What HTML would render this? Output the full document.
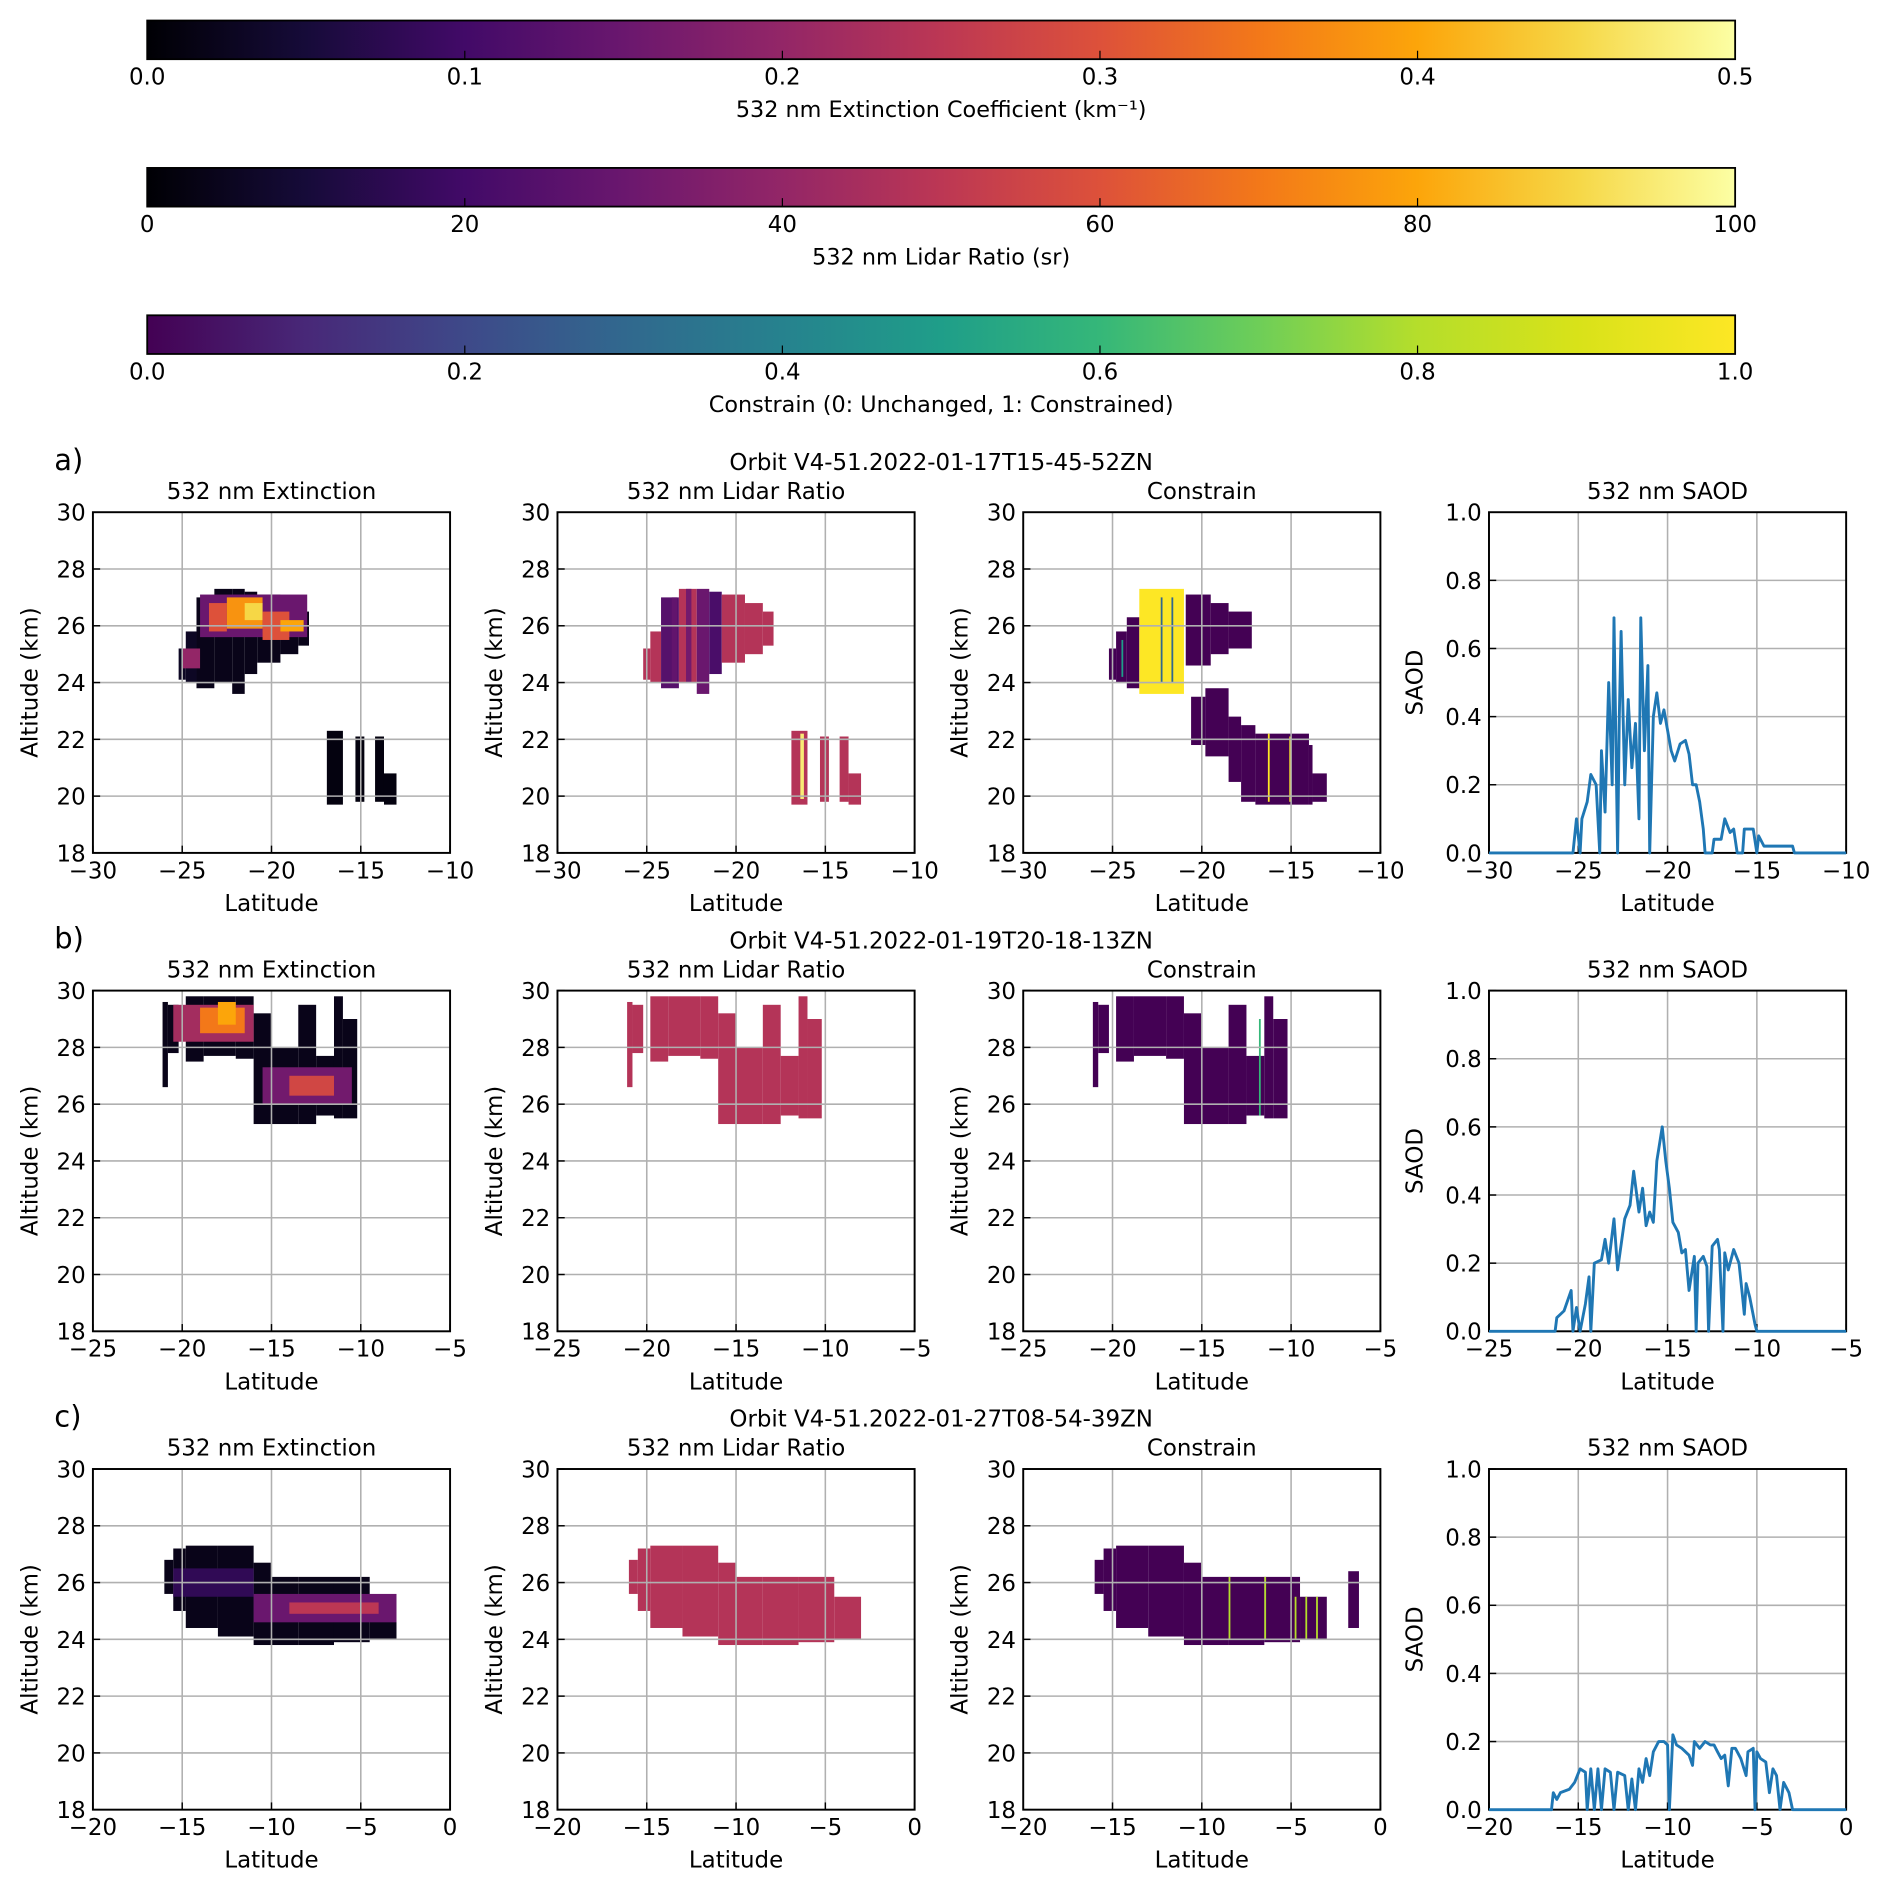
<!DOCTYPE html>
<html><head><meta charset="utf-8">
<style>
html,body{margin:0;padding:0;background:#fff;}
svg{display:block;}
text{font-family:"DejaVu Sans","Liberation Sans",sans-serif;fill:#000;}
</style></head>
<body>
<svg id="fig" xmlns="http://www.w3.org/2000/svg" width="1892" height="1887" viewBox="0 0 1568 1562" preserveAspectRatio="none">
<defs>
<linearGradient id="gInferno" x1="0" x2="1" y1="0" y2="0">
<stop offset="0" stop-color="#000004"/><stop offset="0.1" stop-color="#160b39"/><stop offset="0.2" stop-color="#420a68"/><stop offset="0.3" stop-color="#6a176e"/><stop offset="0.4" stop-color="#932667"/><stop offset="0.5" stop-color="#bc3754"/><stop offset="0.6" stop-color="#dd513a"/><stop offset="0.7" stop-color="#f37819"/><stop offset="0.8" stop-color="#fca50a"/><stop offset="0.9" stop-color="#f6d746"/><stop offset="1" stop-color="#fcffa4"/>
</linearGradient>
<linearGradient id="gViridis" x1="0" x2="1" y1="0" y2="0">
<stop offset="0" stop-color="#440154"/><stop offset="0.1" stop-color="#482878"/><stop offset="0.2" stop-color="#3e4989"/><stop offset="0.3" stop-color="#31688e"/><stop offset="0.4" stop-color="#26828e"/><stop offset="0.5" stop-color="#1f9e89"/><stop offset="0.6" stop-color="#35b779"/><stop offset="0.7" stop-color="#6ece58"/><stop offset="0.8" stop-color="#b5de2b"/><stop offset="0.9" stop-color="#d8e219"/><stop offset="1" stop-color="#fde725"/>
</linearGradient>
</defs>
</svg>
<script>
// ---------- colorbar data ----------
const cbExtTicks = ["0.0","0.1","0.2","0.3","0.4","0.5"];
const cbLrTicks = ["0","20","40","60","80","100"];
const cbConTicks = ["0.0","0.2","0.4","0.6","0.8","1.0"];
const cbLabels = ["532 nm Extinction Coefficient (km\u207B\u00B9)","532 nm Lidar Ratio (sr)","Constrain (0: Unchanged, 1: Constrained)"];

// ---------- row titles ----------
const rowLetters = ["a)","b)","c)"];
const rowTitles = ["Orbit V4-51.2022-01-17T15-45-52ZN","Orbit V4-51.2022-01-19T20-18-13ZN","Orbit V4-51.2022-01-27T08-54-39ZN"];
const colTitles = ["532 nm Extinction","532 nm Lidar Ratio","Constrain","532 nm SAOD"];
const rowLatMin = [-30,-25,-20];
const rowLatMax = [-10,-5,0];
const altTicks = [18,20,22,24,26,28,30];
const saodTicks = [0,0.2,0.4,0.6,0.8,1.0];

// ---------- row a segments [lat0, lat1, bottom km, top km, value] ----------
const aShape = [[-25.2,-24.8,24.1,25.2],[-24.8,-24.2,24.0,25.8],[-24.2,-23.2,23.8,27.0],[-23.2,-22.2,24.0,27.3],[-22.2,-21.5,23.6,27.3],[-21.5,-20.8,24.3,27.2],[-20.8,-19.5,24.7,27.1],[-19.5,-18.5,25.0,26.8],[-18.5,-17.9,25.3,26.5],[-16.9,-16.0,19.7,22.3],[-15.3,-14.8,19.8,22.1],[-14.2,-13.7,19.8,22.1],[-13.7,-13.0,19.7,20.8]];
const aExtShapeVal = [0.03,0.03,0.02,0.02,0.02,0.02,0.02,0.02,0.02,0.01,0.01,0.01,0.01];
const aExtCore = [[-24,-18,25.6,27.1,0.15],[-25,-24,24.5,25.2,0.2],[-23.5,-22.5,25.8,26.8,0.3],[-22.5,-20.5,25.9,27.0,0.38],[-21.5,-20.5,26.2,26.8,0.45],[-20.5,-19,25.5,26.5,0.3],[-19.5,-18.2,25.8,26.2,0.4]];
const aLrShapeVal = [48,48,25,48,30,22,48,48,48,48,48,48,48];
const aLrExtra = [[-23.6,-23.3,24.0,27.0,28],[-22.8,-22.5,24.0,27.3,32],[-16.4,-16.2,19.9,22.2,95]];
const aConShape = [[-25.2,-24.8,24.1,25.2],[-24.8,-24.2,24.0,25.8],[-24.2,-23.5,23.8,26.3],[-20.9,-19.5,24.6,27.1],[-19.5,-18.5,25.0,26.8],[-18.5,-17.2,25.2,26.5],[-20.6,-19.8,21.8,23.5],[-19.8,-18.5,21.4,23.8],[-18.5,-17.8,20.5,22.8],[-17.8,-17.0,19.8,22.5],[-17.0,-14.0,19.7,22.2],[-14.0,-13.8,19.7,21.8],[-13.8,-13.0,19.8,20.8]];
const aConYellow = [[-23.5,-21.0,23.6,27.3,1],[-22.3,-22.2,24.0,27.0,0.3],[-21.7,-21.6,24.0,27.0,0.3],[-24.5,-24.4,24.2,25.5,0.5],[-16.3,-16.2,19.8,22.2,1],[-15.1,-15.0,19.8,22.1,1]];
const aSaodLat = [-30,-25.3,-25.1,-24.9,-24.8,-24.5,-24.3,-24.0,-23.8,-23.7,-23.5,-23.3,-23.1,-23.0,-22.8,-22.7,-22.6,-22.4,-22.2,-22.0,-21.8,-21.6,-21.5,-21.3,-21.1,-21.0,-20.8,-20.6,-20.4,-20.2,-20.0,-19.8,-19.6,-19.3,-19.0,-18.8,-18.6,-18.4,-18.2,-18.0,-17.9,-17.5,-17.4,-17.0,-16.8,-16.5,-16.3,-16.1,-15.8,-15.7,-15.2,-15.0,-14.9,-14.6,-13.0,-12.9,-10];
const aSaodVal = [0,0,0.1,0,0.1,0.15,0.23,0.2,0,0.3,0.12,0.5,0.2,0.69,0,0.4,0.65,0.2,0.45,0.25,0.38,0.1,0.69,0.3,0.55,0,0.4,0.47,0.38,0.42,0.36,0.3,0.27,0.32,0.33,0.29,0.2,0.2,0.15,0.07,0,0,0.04,0.04,0.1,0.06,0.07,0,0,0.07,0.07,0,0.05,0.02,0.02,0,0];

// ---------- row b ----------
const bShape = [[-21.1,-20.8,26.6,29.6],[-20.8,-20.2,27.8,29.5],[-19.8,-18.8,27.5,29.8],[-18.8,-17.0,27.7,29.8],[-17.0,-16.0,27.6,29.8],[-16.0,-15.0,25.3,29.2],[-15.0,-13.5,25.3,28.0],[-13.5,-12.5,25.3,29.5],[-12.5,-11.5,25.6,27.7],[-11.5,-11.0,25.5,29.8],[-11.0,-10.2,25.5,29.0]];
const bExtShapeVal = [0.02,0.02,0.02,0.02,0.02,0.02,0.02,0.02,0.02,0.02,0.02];
const bExtCore = [[-20.5,-16,28.2,29.5,0.22],[-19,-16.5,28.5,29.4,0.35],[-18,-17,28.8,29.6,0.4],[-15.5,-10.5,26.0,27.3,0.16],[-14,-11.5,26.3,27.0,0.28]];
const bLrShapeVal = [48,48,48,48,48,48,48,48,48,48,48];
const bConShapeVal = [0,0,0,0,0,0,0,0,0,0,0];
const bConExtra = [[-11.8,-11.7,25.6,29.0,0.6]];
const bSaodLat = [-25,-21.3,-21.2,-20.8,-20.4,-20.3,-20.1,-19.9,-19.6,-19.4,-19.3,-19.1,-18.7,-18.5,-18.3,-18.0,-17.8,-17.4,-17.1,-16.9,-16.6,-16.4,-16.2,-16.0,-15.8,-15.6,-15.3,-15.1,-14.9,-14.7,-14.4,-14.2,-14.0,-13.8,-13.5,-13.4,-13.3,-13.0,-12.8,-12.7,-12.5,-12.2,-12.1,-11.9,-11.8,-11.6,-11.3,-11.0,-10.8,-10.7,-10.6,-10.4,-10.1,-10.0,-5];
const bSaodVal = [0,0,0.04,0.06,0.12,0,0.07,0,0.08,0.16,0,0.2,0.21,0.27,0.2,0.33,0.18,0.33,0.37,0.47,0.35,0.42,0.31,0.35,0.32,0.5,0.6,0.5,0.42,0.32,0.29,0.23,0.24,0.12,0.22,0,0.2,0.22,0.19,0,0.25,0.27,0.24,0,0.23,0.18,0.24,0.2,0.1,0.05,0.14,0.1,0.02,0,0];

// ---------- row c ----------
const cShape = [[-16,-15.5,25.6,26.8],[-15.5,-14.8,25.0,27.2],[-14.8,-13,24.4,27.3],[-13,-11,24.1,27.3],[-11,-10,23.8,26.7],[-10,-8.5,23.8,26.2],[-8.5,-6.5,23.8,26.2],[-6.5,-4.5,23.9,26.2],[-4.5,-3,24.0,25.5]];
const cExtShapeVal = [0.02,0.02,0.02,0.02,0.02,0.02,0.02,0.02,0.02];
const cExtCore = [[-15.5,-11,25.5,26.5,0.08],[-11,-3,24.6,25.6,0.15],[-9,-4,24.9,25.3,0.25]];
const cLrShapeVal = [48,48,48,48,48,48,48,48,48];
const cConShapeVal = [0,0,0,0,0,0,0,0,0];
const cConExtra = [[-1.8,-1.2,24.4,26.4,0],[-8.5,-8.4,24.0,26.2,0.8],[-6.5,-6.4,24.0,26.2,0.8],[-4.8,-4.7,24.0,25.5,0.8],[-4.2,-4.1,24.0,25.5,0.8],[-3.6,-3.5,24.0,25.5,0.8]];
const cSaodLat = [-20,-16.5,-16.4,-16.2,-16.0,-15.5,-15.2,-14.9,-14.6,-14.5,-14.3,-14.1,-13.9,-13.7,-13.5,-13.2,-13.0,-12.8,-12.4,-12.2,-12.0,-11.8,-11.6,-11.4,-11.2,-11.0,-10.8,-10.5,-10.2,-10.0,-9.9,-9.7,-9.5,-9.2,-8.8,-8.6,-8.5,-8.2,-7.9,-7.6,-7.4,-7.2,-7.0,-6.8,-6.6,-6.4,-6.2,-5.9,-5.6,-5.5,-5.2,-5.1,-5.0,-4.8,-4.5,-4.3,-4.1,-3.9,-3.7,-3.5,-3.2,-3.0,0];
const cSaodVal = [0,0,0.05,0.03,0.05,0.06,0.08,0.12,0.11,0,0.12,0,0.12,0,0.12,0.11,0,0.11,0.1,0,0.09,0,0.12,0.08,0.15,0.1,0.17,0.2,0.2,0.19,0,0.22,0.19,0.18,0.16,0.13,0.2,0.18,0.2,0.19,0.19,0.17,0.15,0.16,0.07,0.18,0.18,0.15,0.1,0.17,0.18,0,0.17,0.15,0.14,0.05,0.12,0.1,0,0.08,0.05,0,0];

// ---------- helpers ----------
const NS = "http://www.w3.org/2000/svg";
const svg = document.getElementById("fig");
function el(tag, attrs, parent){const e=document.createElementNS(NS,tag);for(const k in attrs)e.setAttribute(k,attrs[k]);(parent||svg).appendChild(e);return e;}
function txt(s, attrs, parent){const e=el("text",attrs,parent);e.textContent=s;return e;}
const infernoStops=["#000004","#160b39","#420a68","#6a176e","#932667","#bc3754","#dd513a","#f37819","#fca50a","#f6d746","#fcffa4"];
const viridisStops=["#440154","#482878","#3e4989","#31688e","#26828e","#1f9e89","#35b779","#6ece58","#b5de2b","#d8e219","#fde725"];
function hex2rgb(h){return [parseInt(h.substr(1,2),16),parseInt(h.substr(3,2),16),parseInt(h.substr(5,2),16)];}
function cmap(stops,t){t=Math.max(0,Math.min(1,t));const f=t*10;const i=Math.min(9,Math.floor(f));const r=f-i;const a=hex2rgb(stops[i]),b=hex2rgb(stops[i+1]);return "rgb("+a.map((v,k)=>Math.round(v+(b[k]-v)*r)).join(",")+")";}
function fmtNeg(v){return v<0?"\u2212"+Math.abs(v):String(v);}

// ---------- colorbars ----------
const CB_X0=122, CB_X1=1438, CB_H=32;
const cbYs=[17,139,261];
const cbGrads=["gInferno","gInferno","gViridis"];
const cbTickSets=[cbExtTicks,cbLrTicks,cbConTicks];
const cbNames=["extinction-colorbar","lidar-ratio-colorbar","constrain-colorbar"];
for(let c=0;c<3;c++){
  const g=el("g",{});
  
  
  el("rect",{x:CB_X0,y:cbYs[c],width:CB_X1-CB_X0,height:CB_H,fill:"url(#"+cbGrads[c]+")",stroke:"#000","stroke-width":1.5},g);
  const ticks=cbTickSets[c];
  for(let i=0;i<ticks.length;i++){
    const x=CB_X0+(CB_X1-CB_X0)*i/(ticks.length-1);
    el("line",{x1:x,x2:x,y1:cbYs[c]+CB_H,y2:cbYs[c]+CB_H-7,stroke:"#000","stroke-width":1},g);
    const t=txt(ticks[i],{x:x,y:cbYs[c]+CB_H+21,"font-size":19,"text-anchor":"middle"},g);
    
    
  }
  const lb=txt(cbLabels[c],{x:780,y:cbYs[c]+CB_H+48,"font-size":18.5,"text-anchor":"middle"},g);
  
  
}

// ---------- panels ----------
const PX=[77,462,848,1234], PW=296, PH=282;
const PY=[424,820,1216];

function axes(r,c,xmin,xmax,ymin,ymax,yTicks,yFmt,ylabel){
  const x0=PX[c], y0=PY[r];
  const sx=v=>x0+(v-xmin)/(xmax-xmin)*PW;
  const sy=v=>y0+PH-(v-ymin)/(ymax-ymin)*PH;
  return {x0,y0,sx,sy,xmin,xmax,ymin,ymax,yTicks,yFmt,ylabel};
}
function drawSegs(g,ax,segs,vals,stops,vmax){
  for(let i=0;i<segs.length;i++){
    const s=segs[i]; const v=(vals?vals[i]:s[4]);
    const x=ax.sx(s[0]), w=ax.sx(s[1])-x, yt=ax.sy(s[3]), h=ax.sy(s[2])-yt;
    const rc=el("rect",{x:x,y:yt,width:Math.max(w,1),height:h,fill:cmap(stops,v/vmax)},g);
    
    
  }
}
function drawFrame(g,ax,r,c){
  const xt=[];for(let v=ax.xmin;v<=ax.xmax;v+=5)xt.push(v);
  for(const v of xt){const x=ax.sx(v);el("line",{x1:x,x2:x,y1:ax.y0,y2:ax.y0+PH,stroke:"#b0b0b0","stroke-width":1.3},g);}
  for(const v of ax.yTicks){const y=ax.sy(v);el("line",{x1:ax.x0,x2:ax.x0+PW,y1:y,y2:y,stroke:"#b0b0b0","stroke-width":1.3},g);}
  el("rect",{x:ax.x0,y:ax.y0,width:PW,height:PH,fill:"none",stroke:"#000","stroke-width":1.6},g);
  for(const v of xt){const x=ax.sx(v);el("line",{x1:x,x2:x,y1:ax.y0+PH,y2:ax.y0+PH-6,stroke:"#000","stroke-width":1.2},g);
    const t=txt(fmtNeg(v),{x:x,y:ax.y0+PH+21,"font-size":19,"text-anchor":"middle"},g);
    
    }
  for(const v of ax.yTicks){const y=ax.sy(v);el("line",{x1:ax.x0,x2:ax.x0+6,y1:y,y2:y,stroke:"#000","stroke-width":1.2},g);
    const t=txt(ax.yFmt(v),{x:ax.x0-6,y:y+7,"font-size":19,"text-anchor":"end"},g);
    
    }
  const xl=txt("Latitude",{x:ax.x0+PW/2,y:ax.y0+PH+48,"font-size":19,"text-anchor":"middle"},g);
  
  
  const ylx=ax.x0-(c===3?55:46), yly=ax.y0+PH/2;
  const yl=txt(ax.ylabel,{x:ylx,y:yly,"font-size":19,"text-anchor":"middle",transform:"rotate(-90 "+ylx+" "+yly+")"},g);
  
  
  const tt=txt(colTitles[c],{x:ax.x0+PW/2,y:ax.y0-11,"font-size":19,"text-anchor":"middle"},g);
  
  
}

const rows=[
 {shape:aShape,ext:aExtShapeVal,core:aExtCore,lr:aLrShapeVal,lrX:aLrExtra,conShape:aConShape,conVals:null,conX:aConYellow,sl:aSaodLat,sv:aSaodVal},
 {shape:bShape,ext:bExtShapeVal,core:bExtCore,lr:bLrShapeVal,lrX:[],conShape:bShape,conVals:bConShapeVal,conX:bConExtra,sl:bSaodLat,sv:bSaodVal},
 {shape:cShape,ext:cExtShapeVal,core:cExtCore,lr:cLrShapeVal,lrX:[],conShape:cShape,conVals:cConShapeVal,conX:cConExtra,sl:cSaodLat,sv:cSaodVal}
];
const rowNames=["row-a","row-b","row-c"];
const altFmt=v=>String(v);
const saodFmt=v=>v.toFixed(1);
for(let r=0;r<3;r++){
  const R=rows[r];
  const lt=txt(rowLetters[r],{x:45,y:PY[r]-35,"font-size":24},svg);
  
  
  const ot=txt(rowTitles[r],{x:780,y:PY[r]-35,"font-size":19,"text-anchor":"middle"},svg);
  
  
  const xmin=rowLatMin[r], xmax=rowLatMax[r];
  let g=el("g",{});  
  let ax=axes(r,0,xmin,xmax,18,30,altTicks,altFmt,"Altitude (km)");
  drawSegs(g,ax,R.shape,R.ext,infernoStops,0.5);
  drawSegs(g,ax,R.core,null,infernoStops,0.5);
  drawFrame(g,ax,r,0);
  g=el("g",{});  
  ax=axes(r,1,xmin,xmax,18,30,altTicks,altFmt,"Altitude (km)");
  drawSegs(g,ax,R.shape,R.lr,infernoStops,100);
  drawSegs(g,ax,R.lrX,null,infernoStops,100);
  drawFrame(g,ax,r,1);
  g=el("g",{});  
  ax=axes(r,2,xmin,xmax,18,30,altTicks,altFmt,"Altitude (km)");
  drawSegs(g,ax,R.conShape,R.conVals||R.conShape.map(()=>0),viridisStops,1);
  drawSegs(g,ax,R.conX,null,viridisStops,1);
  drawFrame(g,ax,r,2);
  g=el("g",{});  
  ax=axes(r,3,xmin,xmax,0,1,saodTicks,saodFmt,"SAOD");
  drawFrame(g,ax,r,3);
  const pts=R.sl.map((v,i)=>ax.sx(v).toFixed(1)+","+ax.sy(R.sv[i]).toFixed(1)).join(" ");
  const pl=el("polyline",{points:pts,fill:"none",stroke:"#1f77b4","stroke-width":2.4,"stroke-linejoin":"round"},g);
  
  
}
</script>
</body></html>
